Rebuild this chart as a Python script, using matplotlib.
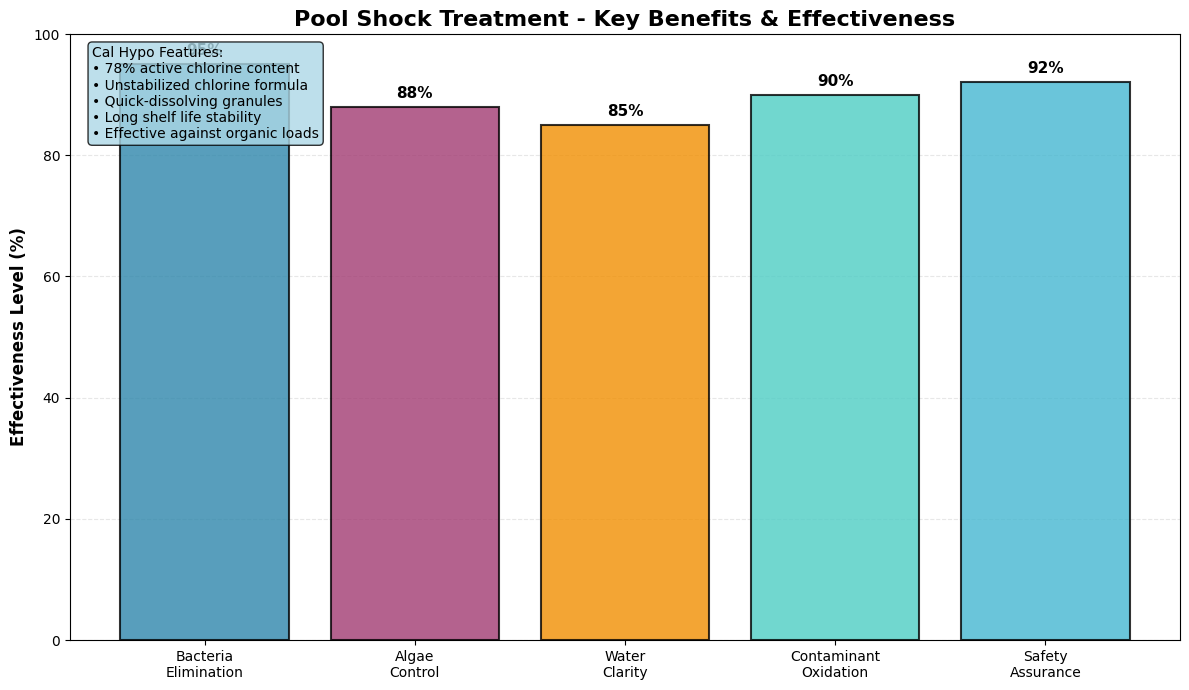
import matplotlib
matplotlib.use("Agg")
import matplotlib.pyplot as plt
import numpy as np

categories = ["Bacteria\nElimination", "Algae\nControl", "Water\nClarity",
              "Contaminant\nOxidation", "Safety\nAssurance"]
values = [95, 88, 85, 90, 92]
colors = ["#2E86AB", "#A23B72", "#F18F01", "#4ECDC4", "#45B7D1"]
features = ("Cal Hypo Features:\n"
            "• 78% active chlorine content\n"
            "• Unstabilized chlorine formula\n"
            "• Quick-dissolving granules\n"
            "• Long shelf life stability\n"
            "• Effective against organic loads")

fig, ax = plt.subplots(figsize=(11.89, 6.9), dpi=100)
x = np.arange(len(categories))
bars = ax.bar(x, values, color=colors, alpha=0.8, edgecolor="black", linewidth=1.5)
for b, v in zip(bars, values):
    ax.text(b.get_x() + b.get_width() / 2, v + 1, f"{v}%", ha="center", va="bottom",
            fontsize=11, fontweight="bold")
ax.set_xticks(x)
ax.set_xticklabels(categories)
ax.set_ylim(0, 100)
ax.set_ylabel("Effectiveness Level (%)", fontsize=12, fontweight="bold")
ax.set_title("Pool Shock Treatment - Key Benefits & Effectiveness", fontsize=16, fontweight="bold")
ax.grid(axis="y", alpha=0.3, linestyle="--")
ax.set_axisbelow(True)
ax.text(0.02, 0.98, features, transform=ax.transAxes, fontsize=10, va="top", ha="left",
        bbox=dict(boxstyle="round", facecolor="lightblue", alpha=0.8))
fig.subplots_adjust(left=70/1189, right=1180/1189, top=1-34/690, bottom=1-640/690)
fig.savefig("out.png", dpi=100)
